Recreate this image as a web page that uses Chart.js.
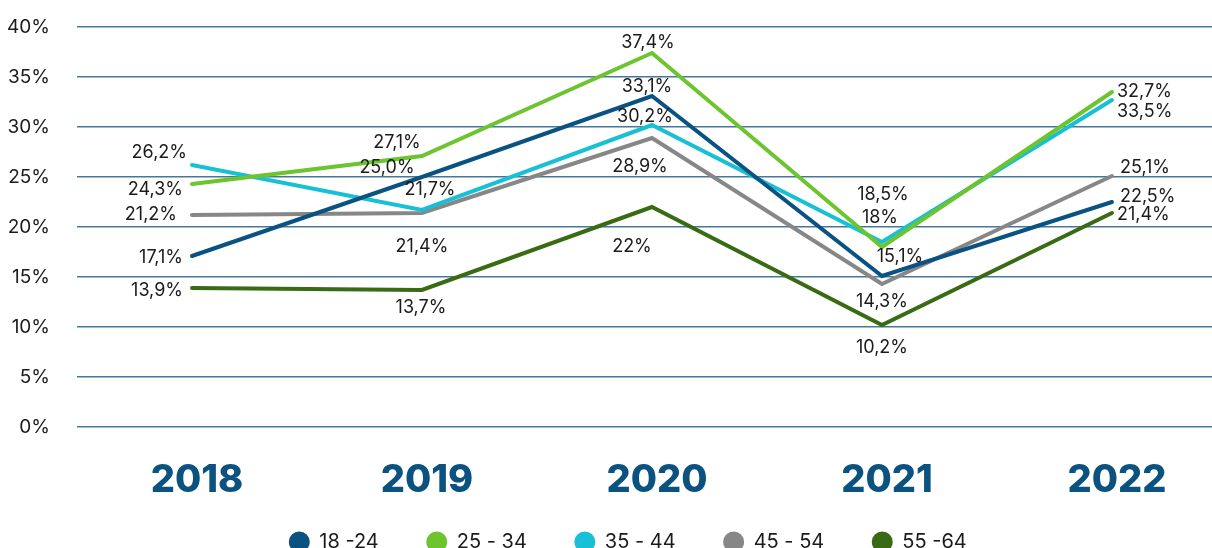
<!DOCTYPE html>
<html>
<head>
<meta charset="utf-8">
<script src="https://cdn.jsdelivr.net/npm/chart.js@4"></script>
<style>
  html, body { margin: 0; padding: 0; background: #fff; }
  #wrap { width: 1212px; height: 548px; }
</style>
</head>
<body>
<div id="wrap"><canvas id="ageTrend" width="1212" height="548"></canvas></div>
<script>
// ปี และ ค่าร้อยละของแต่ละช่วงอายุ
const years = ['2018', '2019', '2020', '2021', '2022'];
const ageGroups = ['18 -24', '25 - 34', '35 - 44', '45 - 54', '55 -64'];
const age18_24 = [17.1, 25.0, 33.1, 15.1, 22.5];
const age25_34 = [24.3, 27.1, 37.4, 18.0, 33.5];
const age35_44 = [26.2, 21.7, 30.2, 18.5, 32.7];
const age45_54 = [21.2, 21.4, 28.9, 14.3, 25.1];
const age55_64 = [13.9, 13.7, 22.0, 10.2, 21.4];
const yTicks = [0, 5, 10, 15, 20, 25, 30, 35, 40];

// จำนวนทศนิยมที่แสดงในป้าย
const labelDecimals = [
  [1, 1, 1, 1, 1],
  [1, 1, 1, 0, 1],
  [1, 1, 1, 1, 1],
  [1, 1, 1, 1, 1],
  [1, 1, 0, 1, 1]
];

const colors = ['#0a5282', '#6cc42e', '#18c0d6', '#878787', '#386b13'];

// ตำแหน่งป้ายตัวเลขของแต่ละจุด [dx, dy] ต่อช่วงอายุ
const labelOffsets = [
  [[-9, 2], [-35, -9], [-5, -9], [18, -19], [8, -5]],
  [[-9, 6], [-25, -13], [-4, -10], [-2, -29], [5, 20]],
  [[-5, -12], [8, -20], [-7, -8], [1, -47], [5, -8]],
  [[-15, 0], [0, 34], [-12, 29], [0, 18], [8, -8]],
  [[-9, 3], [-1, 18], [-20, 40], [0, 23], [5, 2]]
];

const series = [age18_24, age25_34, age35_44, age45_54, age55_64];

const datasets = series.map((values, i) => ({
  label: ageGroups[i],
  data: values.map((v, j) => ({ x: j, y: v })),
  borderColor: colors[i],
  backgroundColor: colors[i],
  borderWidth: 4,
  pointRadius: 0,
  tension: 0,
  borderCapStyle: 'round',
  borderJoinStyle: 'miter'
}));

const fmt = (v, d) => v.toFixed(d).replace('.', ',') + '%';

// วาดตัวเลขร้อยละข้างจุดข้อมูล
const valueLabels = {
  id: 'valueLabels',
  afterDatasetsDraw(chart) {
    const ctx = chart.ctx;
    ctx.save();
    ctx.font = '18px Inter';
    ctx.fillStyle = '#1b1b1b';
    ctx.textBaseline = 'middle';
    chart.data.datasets.forEach((ds, i) => {
      const meta = chart.getDatasetMeta(i);
      meta.data.forEach((pt, j) => {
        const [dx, dy] = labelOffsets[i][j];
        ctx.textAlign = j === 0 ? 'right' : (j === years.length - 1 ? 'left' : 'center');
        ctx.fillText(fmt(series[i][j], labelDecimals[i][j]), pt.x + dx, pt.y + dy);
      });
    });
    ctx.restore();
  }
};

// เลื่อนคำอธิบายให้อยู่ตรงตำแหน่ง
const legendShift = {
  id: 'legendShift',
  afterLayout(chart) {
    const lg = chart.legend;
    lg.left += 22; lg.right += 22;
    lg.top -= 13;
  }
};

const ctx = document.getElementById('ageTrend').getContext('2d');
const ageTrend = new Chart(ctx, {
  type: 'line',
  data: { datasets },
  plugins: [valueLabels, legendShift],
  options: {
    responsive: false,
    animation: false,
    layout: { padding: { top: 27, right: 0, left: 0, bottom: 0 } },
    plugins: {
      tooltip: { enabled: false },
      legend: {
        position: 'bottom',
        maxHeight: 51,
        labels: {
          usePointStyle: true,
          pointStyle: 'circle',
          boxWidth: 20,
          boxHeight: 12,
          padding: 48,
          color: '#1b1b1b',
          font: { family: 'Inter', size: 20 }
        }
      }
    },
    scales: {
      x: {
        type: 'linear',
        min: -0.5,
        max: 4.435,
        afterBuildTicks(scale) {
          scale.ticks = years.map((y, i) => ({ value: i }));
        },
        afterFit(scale) { scale.height = 70; },
        grid: { display: false },
        border: { display: false },
        ticks: {
          autoSkip: false,
          maxRotation: 0,
          padding: 23,
          labelOffset: 5,
          color: '#0b5280',
          font: { family: 'Inter', size: 38, weight: '800' },
          callback: v => years[v]
        }
      },
      y: {
        min: 0,
        max: 40,
        afterBuildTicks(scale) {
          scale.ticks = yTicks.map(v => ({ value: v }));
        },
        afterFit(scale) {
          scale.width = 77;
          scale.paddingTop = 0;
          scale.paddingBottom = 0;
        },
        grid: { color: '#46779b', lineWidth: 1.5, drawTicks: false },
        border: { display: false },
        ticks: {
          padding: 27,
          color: '#1b1b1b',
          font: { family: 'Inter', size: 19 },
          callback: v => v + '%'
        }
      }
    }
  }
});
</script>
</body>
</html>
